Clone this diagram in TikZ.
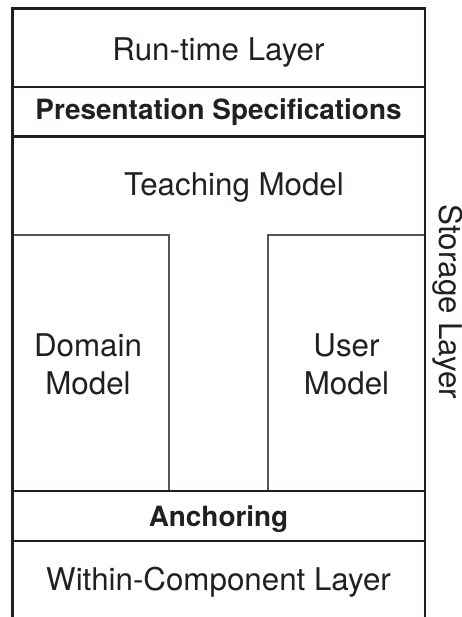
\documentclass[tikz,border=0pt]{standalone}
\usepackage{fontspec}
\setmainfont{TeX Gyre Heros}
\begin{document}
\definecolor{ink}{HTML}{231F20}
\definecolor{thin}{HTML}{555555}
\begin{tikzpicture}[x=1pt,y=-1pt,
  frame/.style={draw=ink,line width=2.6pt},
  inner/.style={draw=thin,line width=1.2pt},
  label/.style={text=ink,inner sep=0pt,font=\fontsize{31.3}{38.5}\selectfont},
  boldlabel/.style={text=ink,inner sep=0pt,font=\fontsize{27.9}{33}\selectfont\bfseries},
]
\useasboundingbox (0,0) rectangle (462,617);

% inner component boxes of the storage layer
\draw[inner] (12.5,235) -- (169,235) -- (169,491);
\draw[inner] (425,235) -- (268,235) -- (268,491);

% outer frame and layer dividers
\draw[frame] (12.5,617) -- (12.5,8.5) -- (425,8.5) -- (425,617);
\draw[frame] (12.5,87) -- (425,87);
\draw[frame] (12.5,136.5) -- (425,136.5);
\draw[frame] (12.5,491) -- (425,491);
\draw[frame] (12.5,541) -- (425,541);

% layer labels
\node[label,anchor=base] (runtime) at (218.5,61) {Run-time Layer};
\node[boldlabel,anchor=base] (present) at (218.5,120) {Presentation Specifications};
\node[label,anchor=base] (teaching) at (234,196) {Teaching Model};
\node[label,align=center] (domain) at (88,364.5) {Domain\\Model};
\node[label,align=center] (user) at (346.5,364.5) {User\\Model};
\node[boldlabel,anchor=base] (anchoring) at (218.5,526) {Anchoring};
\node[label,anchor=base] (within) at (218.5,590.7) {Within-Component Layer};
\node[label,rotate=-90] (storage) at (447.5,302) {Storage Layer};
\end{tikzpicture}
\end{document}
